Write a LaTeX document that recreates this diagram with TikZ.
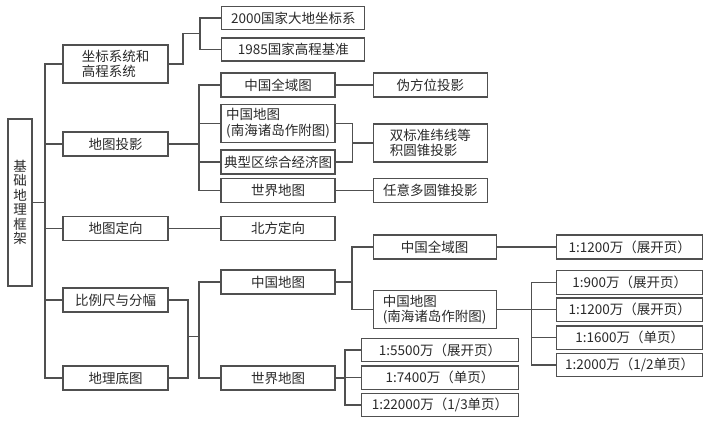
\documentclass[tikz,border=0pt]{standalone}
\usepackage{fontspec}
\setmainfont{Noto Sans CJK SC}
\begin{document}
\begin{tikzpicture}[x=1pt,y=-1pt,
  bx/.style={draw=linec, line width=1.1pt, text=txtc, inner sep=0pt, minimum height=24pt,
    font=\fontsize{13.5}{15.5}\selectfont, anchor=center},
  w1/.style={minimum width=105pt},
  w2/.style={minimum width=114pt},
  two/.style={minimum height=38pt, align=left},
  ln/.style={draw=linec, line width=1.1pt}]
\definecolor{linec}{HTML}{505050}
\definecolor{txtc}{HTML}{2A2A2A}
\useasboundingbox[fill=white] (0,0) rectangle (712,423);
% root
\node[bx, minimum width=24pt, minimum height=167pt, align=center, font=\fontsize{13.5}{14.5}\selectfont] (root) at (20,202.5) {基\\础\\地\\理\\框\\架};
% level 1
\node[bx,w1,two] (a1) at (115.5,64) {坐标系统和\\高程系统};
\node[bx,w1] (a2) at (115.5,144) {地图投影};
\node[bx,w1] (a3) at (115.5,228.7) {地图定向};
\node[bx,w1] (a4) at (115.5,300) {比例尺与分幅};
\node[bx,w1] (a5) at (115.5,378) {地理底图};
% level 2
\node[bx, minimum width=143pt, minimum height=23pt] (b1) at (293.3,18) {2000国家大地坐标系};
\node[bx, minimum width=143pt, minimum height=23pt] (b2) at (293.3,49.5) {1985国家高程基准};
\node[bx,w2] (b3) at (278,85) {中国全域图};
\node[bx,w2,two] (b4) at (278,123.3) {中国地图\\(南海诸岛作附图)};
\node[bx,w2] (b5) at (278,162) {典型区综合经济图};
\node[bx,w2] (b6) at (278,190.5) {世界地图};
\node[bx,w2] (b7) at (278,228.7) {北方定向};
\node[bx,w2] (b8) at (278,282) {中国地图};
\node[bx,w2] (b9) at (278,378) {世界地图};
% level 3 projections
\node[bx,w2] (c1) at (430.3,85) {伪方位投影};
\node[bx,w2,two] (c2) at (430.3,143) {双标准纬线等\\积圆锥投影};
\node[bx,w2] (c3) at (430.3,190.5) {任意多圆锥投影};
% level 3 scale
\node[bx, minimum width=123pt] (d1) at (434.6,247) {中国全域图};
\node[bx, minimum width=123pt, two] (d2) at (434.6,309.5) {中国地图\\(南海诸岛作附图)};
% world scales
\node[bx, minimum width=157pt, minimum height=23.5pt] (e1) at (440,350) {1:5500万（展开页）};
\node[bx, minimum width=157pt, minimum height=23.5pt] (e2) at (440,377.7) {1:7400万（单页）};
\node[bx, minimum width=157pt, minimum height=23.5pt] (e3) at (440,405) {1:22000万（1/3单页）};
% level 4
\node[bx, minimum width=146pt] (f0) at (629.7,247) {1:1200万（展开页）};
\node[bx, minimum width=146pt, minimum height=23.5pt] (f1) at (629.7,282.3) {1:900万（展开页）};
\node[bx, minimum width=146pt, minimum height=23.5pt] (f2) at (629.7,309.7) {1:1200万（展开页）};
\node[bx, minimum width=146pt, minimum height=23.5pt] (f3) at (629.7,337.7) {1:1600万（单页）};
\node[bx, minimum width=146pt, minimum height=23.5pt] (f4) at (629.7,365) {1:2000万（1/2单页）};
% junction coordinates
\coordinate (t0) at (45,0);
\coordinate (t1) at (183,33.3);
\coordinate (t1b) at (200,33.3);
\coordinate (t2) at (199,0);
\coordinate (t3) at (352.7,143);
\coordinate (t4) at (188,336.7);
\coordinate (t4b) at (199,336.7);
\coordinate (t5) at (352,0);
\coordinate (t6) at (531.7,0);
\coordinate (t7) at (345,0);
% connectors
\draw[ln] (root.east) -- (root.east -| t0);
\draw[ln] (a1.west) -- (a1.west -| t0) -- (a5.west -| t0) -- (a5.west);
\foreach \n in {a2,a3,a4} \draw[ln] (\n.west) -- (\n.west -| t0);
\draw[ln] (a1.east) -| (t1) -- (t1b);
\draw[ln] (b1.west) -| (t1b) |- (b2.west);
\draw[ln] (a2.east) -- (a2.east -| t2);
\draw[ln] (b3.west) -| (t2 |- b6.west) -- (b6.west);
\draw[ln] (b4.west) -- (b4.west -| t2);
\draw[ln] (b5.west) -- (b5.west -| t2);
\draw[ln] (a3.east) -- (b7.west);
\draw[ln] (b3.east) -- (c1.west);
\draw[ln] (b6.east) -- (c3.west);
\draw[ln] (b4.east) -| (t3) |- (b5.east);
\draw[ln] (t3) -- (c2.west);
\draw[ln] (a4.east) -| (t4) |- (a5.east);
\draw[ln] (t4) -- (t4b);
\draw[ln] (b8.west) -| (t4b) |- (b9.west);
\draw[ln] (b8.east) -- (b8.east -| t5);
\draw[ln] (d1.west) -| (t5 |- d2.west) -- (d2.west);
\draw[ln] (d1.east) -- (f0.west);
\draw[ln] (d2.east) -- (d2.east -| t6);
\draw[ln] (f1.west) -| (t6 |- f4.west) -- (f4.west);
\draw[ln] (f2.west) -- (f2.west -| t6);
\draw[ln] (f3.west) -- (f3.west -| t6);
\draw[ln] (b9.east) -- (b9.east -| t7);
\draw[ln] (e1.west) -| (t7 |- e3.west) -- (e3.west);
\draw[ln] (e2.west) -- (e2.west -| t7);
\end{tikzpicture}
\end{document}
